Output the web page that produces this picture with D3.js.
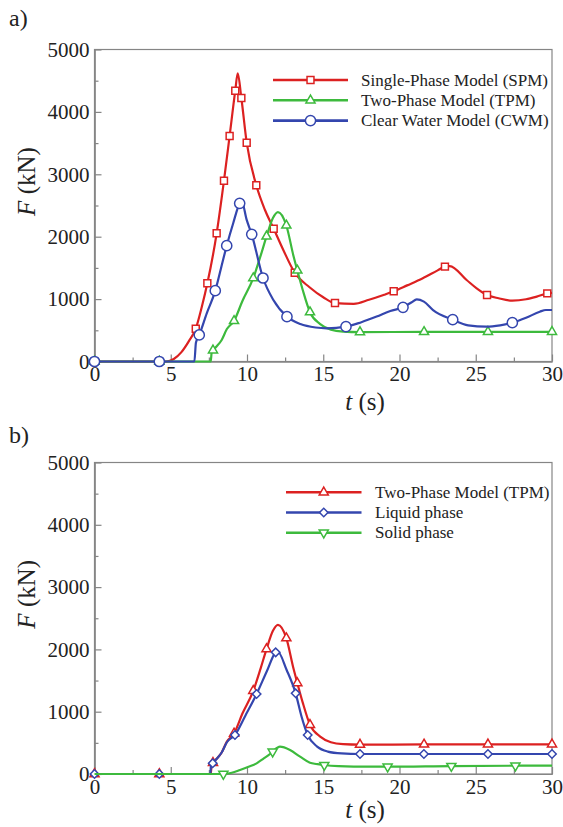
<!DOCTYPE html>
<html>
<head>
<meta charset="utf-8">
<script src="https://cdn.jsdelivr.net/npm/d3@7"></script>
<style>
  body { margin: 0; background: #fff; }
  svg { display: block; }
</style>
</head>
<body>
<svg id="fig" width="563" height="827"></svg>
<script>
// ---- Axis ticks ----
const xMajor = [0, 5, 10, 15, 20, 25, 30];
const xMinor = [2.5, 7.5, 12.5, 17.5, 22.5, 27.5];
const yMajor = [0, 1000, 2000, 3000, 4000, 5000];
const yMinor = [500, 1500, 2500, 3500, 4500];

// ---- a) Single-Phase Model (SPM), F in kN vs t in s ----
const spmT = [0, 4.25, 4.7, 5.2, 5.7, 6.2, 6.64, 7.03, 7.4, 8.01, 8.49, 8.86, 9.23, 9.39, 9.63, 9.98, 10.61, 11.18, 11.75, 12.38, 13.13, 14.1, 15.0, 15.77, 17.0, 18.0, 19.0, 19.62, 20.5, 21.5, 22.5, 22.98, 23.3, 24.4, 25.06, 25.74, 26.5, 27.4, 28.3, 29.0, 29.69, 30];
const spmF = [0, 0, 0, 40, 150, 330, 526, 870, 1253, 2054, 2898, 3614, 4340, 4619, 4223, 3507, 2824, 2428, 2128, 1787, 1423, 1190, 1030, 937, 925, 990, 1070, 1125, 1220, 1330, 1460, 1520, 1530, 1306, 1173, 1066, 1013, 975, 997, 1040, 1092, 1100];
const spmMarkT = [6.64, 7.4, 8.01, 8.49, 8.86, 9.23, 9.63, 9.98, 10.61, 11.75, 13.13, 15.77, 19.62, 22.98, 25.74, 29.69];
const spmMarkF = [526, 1253, 2054, 2898, 3614, 4340, 4223, 3507, 2824, 2128, 1423, 937, 1125, 1520, 1066, 1092];

// ---- Two-Phase Model (TPM), shown in both panels ----
const tpmT = [0, 4.25, 7.62, 7.68, 7.77, 8.0, 8.34, 8.68, 9.15, 9.7, 10.41, 10.9, 11.28, 11.7, 12.03, 12.58, 13.04, 13.3, 13.65, 14.13, 14.8, 15.5, 16.3, 17.41, 21.61, 25.8, 30];
const tpmF = [0, 0, 0, 140, 180, 240, 345, 520, 650, 970, 1335, 1700, 2005, 2300, 2395, 2180, 1700, 1460, 1150, 790, 600, 510, 480, 472, 474, 476, 476];
const tpmMarkT = [0, 4.25, 7.77, 9.15, 10.41, 11.28, 12.58, 13.3, 14.13, 17.41, 21.61, 25.8, 30];
const tpmMarkF = [0, 0, 180, 650, 1335, 2005, 2180, 1460, 790, 472, 474, 476, 476];

// ---- a) Clear Water Model (CWM) ----
const cwmT = [0, 4.25, 6.55, 6.65, 6.87, 7.36, 7.92, 8.3, 8.67, 9.1, 9.52, 9.65, 9.98, 10.31, 11.05, 11.73, 12.62, 13.5, 14.5, 15.22, 16.49, 17.5, 18.5, 19.4, 20.23, 20.8, 21.13, 21.6, 22.2, 23.49, 24.5, 25.7, 26.6, 27.4, 28.3, 29.2, 29.6, 30];
const cwmF = [0, 0, 0, 300, 425, 772, 1135, 1500, 1856, 2220, 2535, 2570, 2270, 2038, 1338, 985, 718, 600, 545, 532, 558, 630, 720, 810, 868, 950, 997, 960, 825, 670, 580, 558, 580, 622, 700, 798, 825, 825];
const cwmMarkT = [0, 4.25, 6.87, 7.92, 8.67, 9.52, 10.31, 11.05, 12.62, 16.49, 20.23, 23.49, 27.4];
const cwmMarkF = [0, 0, 425, 1135, 1856, 2535, 2038, 1338, 718, 558, 868, 670, 622];

// ---- b) Liquid phase ----
const liqT = [0, 4.25, 7.6, 7.63, 7.75, 8.0, 8.34, 8.68, 9.21, 9.9, 10.63, 11.3, 11.88, 12.0, 12.6, 13.19, 13.58, 13.98, 14.6, 15.3, 16.2, 17.41, 21.6, 25.8, 30];
const liqF = [0, 0, 0, 120, 172, 240, 345, 510, 626, 940, 1284, 1650, 1953, 1970, 1670, 1295, 920, 626, 440, 360, 330, 321, 321, 321, 321];
const liqMarkT = [0, 4.25, 7.75, 9.21, 10.63, 11.88, 13.19, 13.98, 17.41, 21.6, 25.8, 30];
const liqMarkF = [0, 0, 172, 626, 1284, 1953, 1295, 626, 321, 321, 321, 321];

// ---- b) Solid phase ----
const solT = [0, 4.25, 8.45, 9.0, 9.54, 10.1, 10.63, 11.1, 11.51, 11.68, 12.16, 12.82, 13.48, 14.13, 15.07, 16.0, 17.0, 19.22, 23.4, 27.6, 30];
const solF = [0, 0, 0, 20, 64, 115, 171, 250, 321, 358, 438, 385, 278, 181, 144, 125, 118, 117, 128, 133, 133];
const solMarkT = [8.45, 11.68, 15.07, 19.22, 23.4, 27.6];
const solMarkF = [0, 358, 144, 117, 128, 133];

// ---- Legend labels ----
const legendA = ["Single-Phase Model (SPM)", "Two-Phase Model (TPM)", "Clear Water Model (CWM)"];
const legendB = ["Two-Phase Model (TPM)", "Liquid phase", "Solid phase"];

const FONT = '"Liberation Serif", "Times New Roman", Times, serif';
const RED = "#dc2121", GREEN = "#3dba3d", BLUE = "#3446ae";
const AXIS = "#858585", INK = "#222";

const svg = d3.select("#fig");

// marker shapes
const shapes = {
  square:   { type: d3.symbolSquare,   size: 48, rot: 0 },
  triangle: { type: d3.symbolTriangle, size: 36, rot: 0 },
  circle:   { type: d3.symbolCircle,   size: 82, rot: 0 },
  diamond:  { type: d3.symbolSquare,   size: 36, rot: 45 },
  tridown:  { type: d3.symbolTriangle, size: 36, rot: 180 }
};

function drawMarker(g, shape, color, px, py) {
  const s = shapes[shape];
  g.append("path")
    .attr("d", d3.symbol().type(s.type).size(s.size)())
    .attr("transform", `translate(${px},${py}) rotate(${s.rot})`)
    .attr("fill", "#fff")
    .attr("stroke", color)
    .attr("stroke-width", 1.5);
}

function panel(cfg) {
  const x = d3.scaleLinear().domain([0, 30]).range([cfg.left, cfg.right]);
  const y = d3.scaleLinear().domain([0, 5000]).range([cfg.bottom, cfg.top]);
  const g = svg.append("g");

  // frame
  g.append("rect")
    .attr("x", cfg.left).attr("y", cfg.top)
    .attr("width", cfg.right - cfg.left).attr("height", cfg.bottom - cfg.top)
    .attr("fill", "none").attr("stroke", AXIS).attr("stroke-width", 1.2);

  // bottom axis: major ticks with labels, minor ticks without
  const xa = g.append("g").attr("transform", `translate(0,${cfg.bottom})`)
    .call(d3.axisBottom(x).tickValues(xMajor).tickSizeInner(-7).tickSizeOuter(0).tickPadding(5).tickFormat(d3.format("d")));
  const xm = g.append("g").attr("transform", `translate(0,${cfg.bottom})`)
    .call(d3.axisBottom(x).tickValues(xMinor).tickSizeInner(-4).tickSizeOuter(0).tickFormat(""));
  const ya = g.append("g").attr("transform", `translate(${cfg.left},0)`)
    .call(d3.axisLeft(y).tickValues(yMajor).tickSizeInner(-7).tickSizeOuter(0).tickPadding(5).tickFormat(d3.format("d")));
  const ym = g.append("g").attr("transform", `translate(${cfg.left},0)`)
    .call(d3.axisLeft(y).tickValues(yMinor).tickSizeInner(-4).tickSizeOuter(0).tickFormat(""));
  [xa, xm, ya, ym].forEach(a => {
    a.select(".domain").attr("stroke", AXIS).attr("stroke-width", 1.2);
    a.selectAll(".tick line").attr("stroke", AXIS).attr("stroke-width", 1.2);
    a.selectAll(".tick text").attr("fill", INK).style("font-family", FONT).style("font-size", "21px");
  });

  // axis titles
  const midY = (cfg.top + cfg.bottom) / 2 - 24;
  g.append("text")
    .attr("transform", `translate(${cfg.left - 60},${midY}) rotate(-90)`)
    .attr("text-anchor", "middle")
    .style("font-family", FONT).style("font-size", "25px").attr("fill", INK)
    .html('<tspan font-style="italic">F</tspan> (kN)');
  g.append("text")
    .attr("x", 365).attr("y", cfg.xTitleY)
    .attr("text-anchor", "middle")
    .style("font-family", FONT).style("font-size", "25px").attr("fill", INK)
    .html('<tspan font-style="italic">t</tspan> (s)');

  // panel tag
  g.append("text")
    .attr("x", 9).attr("y", cfg.tagY)
    .style("font-family", FONT).style("font-size", "24px").attr("fill", INK)
    .text(cfg.tag);

  // plot clip
  const clipId = "clip-" + cfg.tag.replace(/\W/g, "");
  svg.append("clipPath").attr("id", clipId)
    .append("rect").attr("x", cfg.left - 8).attr("y", cfg.top)
    .attr("width", cfg.right - cfg.left + 16).attr("height", cfg.bottom - cfg.top + 8);
  const plot = g.append("g").attr("clip-path", `url(#${clipId})`);

  const line = d3.line().x(d => x(d[0])).y(d => y(d[1])).curve(d3.curveMonotoneX);

  cfg.series.forEach(s => {
    const pts = s.t.map((t, i) => [t, s.f[i]]);
    plot.append("path").datum(pts)
      .attr("d", line)
      .attr("fill", "none").attr("stroke", s.color)
      .attr("stroke-width", 2.2).attr("stroke-linejoin", "round");
    s.mt.forEach((t, i) => drawMarker(plot, s.shape, s.color, x(t), y(s.mf[i])));
  });

  // legend
  cfg.series.forEach((s, i) => {
    const ly = cfg.legY + i * cfg.legDy;
    g.append("line")
      .attr("x1", cfg.legX1).attr("x2", cfg.legX2).attr("y1", ly).attr("y2", ly)
      .attr("stroke", s.color).attr("stroke-width", 2.6);
    drawMarker(g, s.shape, s.color, (cfg.legX1 + cfg.legX2) / 2, ly);
    g.append("text")
      .attr("x", cfg.legTx).attr("y", ly).attr("dy", "0.33em")
      .style("font-family", FONT).style("font-size", "17px").attr("fill", INK)
      .text(s.label);
  });
}

panel({
  tag: "a)", tagY: 26,
  left: 94.5, right: 552, top: 49.5, bottom: 361.5,
  xTitleY: 410,
  legX1: 273, legX2: 348, legTx: 361, legY: 80, legDy: 20.3,
  series: [
    { label: legendA[0], t: spmT, f: spmF, mt: spmMarkT, mf: spmMarkF, color: RED, shape: "square" },
    { label: legendA[1], t: tpmT, f: tpmF, mt: tpmMarkT, mf: tpmMarkF, color: GREEN, shape: "triangle" },
    { label: legendA[2], t: cwmT, f: cwmF, mt: cwmMarkT, mf: cwmMarkF, color: BLUE, shape: "circle" }
  ]
});

panel({
  tag: "b)", tagY: 443,
  left: 94.5, right: 552, top: 462.5, bottom: 774,
  xTitleY: 818,
  legX1: 286, legX2: 361.5, legTx: 375, legY: 492.3, legDy: 20.2,
  series: [
    { label: legendB[0], t: tpmT, f: tpmF, mt: tpmMarkT, mf: tpmMarkF, color: RED, shape: "triangle" },
    { label: legendB[1], t: liqT, f: liqF, mt: liqMarkT, mf: liqMarkF, color: BLUE, shape: "diamond" },
    { label: legendB[2], t: solT, f: solF, mt: solMarkT, mf: solMarkF, color: GREEN, shape: "tridown" }
  ]
});
</script>
</body>
</html>
